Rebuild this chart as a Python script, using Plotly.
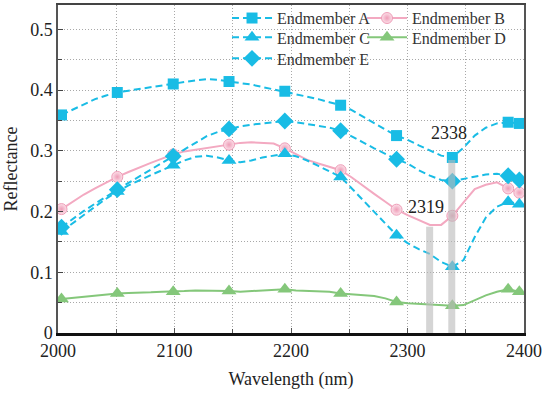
import plotly.graph_objects as go

# Band centres (nm)
wavelength = [2003.0, 2012.6, 2022.2, 2031.8, 2041.3, 2050.9, 2060.5, 2070.1, 2079.7, 2089.3,
              2098.9, 2108.4, 2118.0, 2127.6, 2137.2, 2146.8, 2156.4, 2165.9, 2175.5, 2185.1,
              2194.7, 2204.3, 2213.9, 2223.5, 2233.0, 2242.6, 2252.2, 2261.8, 2271.4, 2281.0,
              2290.6, 2300.1, 2309.7, 2319.3, 2328.9, 2338.5, 2348.1, 2357.7, 2367.2, 2376.8,
              2386.4, 2396.0]

endmember_a = [0.359, 0.368, 0.377, 0.385, 0.391, 0.396, 0.399, 0.402, 0.405, 0.407,
               0.410, 0.413, 0.416, 0.418, 0.417, 0.414, 0.412, 0.409, 0.405, 0.401,
               0.398, 0.394, 0.390, 0.385, 0.380, 0.375, 0.367, 0.356, 0.345, 0.335,
               0.325, 0.318, 0.309, 0.300, 0.292, 0.289, 0.305, 0.325, 0.338, 0.345,
               0.347, 0.345]
endmember_b = [0.204, 0.216, 0.228, 0.238, 0.248, 0.257, 0.265, 0.273, 0.280, 0.287,
               0.294, 0.299, 0.302, 0.305, 0.308, 0.310, 0.313, 0.314, 0.313, 0.312,
               0.304, 0.295, 0.285, 0.279, 0.274, 0.268, 0.256, 0.242, 0.229, 0.216,
               0.203, 0.194, 0.186, 0.178, 0.178, 0.193, 0.215, 0.237, 0.244, 0.248,
               0.238, 0.231]
endmember_c = [0.167, 0.181, 0.195, 0.208, 0.221, 0.233, 0.243, 0.252, 0.260, 0.268,
               0.276, 0.284, 0.290, 0.292, 0.289, 0.284, 0.281, 0.284, 0.289, 0.292,
               0.295, 0.291, 0.284, 0.275, 0.266, 0.257, 0.238, 0.219, 0.200, 0.180,
               0.161, 0.148, 0.138, 0.130, 0.117, 0.109, 0.120, 0.158, 0.190, 0.208,
               0.216, 0.212]
endmember_d = [0.056, 0.058, 0.060, 0.061, 0.063, 0.065, 0.066, 0.066, 0.067, 0.068,
               0.068, 0.069, 0.070, 0.070, 0.070, 0.069, 0.068, 0.069, 0.070, 0.071,
               0.072, 0.070, 0.069, 0.069, 0.068, 0.065, 0.064, 0.063, 0.061, 0.057,
               0.051, 0.049, 0.048, 0.047, 0.046, 0.045, 0.046, 0.054, 0.062, 0.068,
               0.072, 0.068]
endmember_e = [0.174, 0.188, 0.201, 0.213, 0.225, 0.236, 0.247, 0.258, 0.269, 0.280,
               0.291, 0.302, 0.314, 0.324, 0.331, 0.336, 0.340, 0.343, 0.345, 0.347,
               0.349, 0.347, 0.344, 0.341, 0.338, 0.333, 0.324, 0.314, 0.304, 0.295,
               0.286, 0.279, 0.268, 0.259, 0.252, 0.250, 0.254, 0.258, 0.261, 0.262,
               0.259, 0.252]

# Bands that carry a marker
marker_idx = [0, 5, 10, 15, 20, 25, 30, 35, 40, 41]

# Absorption features highlighted with grey bars
feature_nm = [2319, 2338]
feature_top = [0.175, 0.285]

BLUE = "#19BCE5"
PINK = "#F3A9C1"
GREEN = "#84C77A"
FONT = "'Liberation Serif', 'Times New Roman', Tinos, serif"

# legend slot for each series: (legend id, column x, row y) in paper units
series = [
    ("Endmember A", endmember_a, BLUE, "square", 11, "7px,4px", ("legend", 0.3627, 0.960)),
    ("Endmember B", endmember_b, PINK, "circle", 11, "solid", ("legend2", 0.6524, 0.960)),
    ("Endmember C", endmember_c, BLUE, "triangle-up", 13, "7px,4px", ("legend3", 0.3627, 0.901)),
    ("Endmember D", endmember_d, GREEN, "triangle-up", 13, "solid", ("legend4", 0.6524, 0.901)),
    ("Endmember E", endmember_e, BLUE, "diamond", 13, "7px,4px", ("legend5", 0.3627, 0.837)),
]


def make_marker(symbol, size, color):
    if symbol == "circle":
        return dict(symbol=symbol, size=size, color="#FCE1EA",
                    gradient=dict(type="radial", color="#EE9DB7"),
                    line=dict(width=1, color="#EE9DB7"))
    return dict(symbol=symbol, size=size, color=color, line=dict(width=0))


fig = go.Figure()
for name, vals, color, symbol, msize, dash, (leg, lx, ly) in series:
    line = dict(color=color, width=2, dash=dash)
    # full spectrum line
    fig.add_trace(go.Scatter(x=wavelength, y=vals, name=name, mode="lines",
                             line=line, showlegend=False))
    # markers on selected bands
    fig.add_trace(go.Scatter(x=[wavelength[i] for i in marker_idx],
                             y=[vals[i] for i in marker_idx],
                             name=name, mode="markers", showlegend=False,
                             marker=make_marker(symbol, msize, color)))
    # legend entry
    fig.add_trace(go.Scatter(x=[None], y=[None], name=name, mode="lines+markers",
                             line=line, marker=make_marker(symbol, msize, color), legend=leg))

for w, top in zip(feature_nm, feature_top):
    fig.add_trace(go.Scatter(
        x=[w, w], y=[0, top], mode="lines", showlegend=False, hoverinfo="skip",
        line=dict(color="rgba(185,185,185,0.6)", width=7),
    ))

fig.add_annotation(x=feature_nm[0], y=0.207, text=str(feature_nm[0]), showarrow=False,
                   xshift=-4, font=dict(family=FONT, size=18, color="#222"))
fig.add_annotation(x=feature_nm[1], y=0.329, text=str(feature_nm[1]), showarrow=False,
                   xshift=-3, font=dict(family=FONT, size=18, color="#222"))

grid = dict(gridcolor="#A8A8A8", griddash="1px,2px", gridwidth=1)
legend_common = dict(xanchor="left", yanchor="middle", bgcolor="rgba(0,0,0,0)",
                     itemwidth=40, tracegroupgap=0,
                     font=dict(family=FONT, size=16, color="#333"))
legends = {leg: dict(x=lx, y=ly, **legend_common) for *_, (leg, lx, ly) in series}

fig.update_layout(
    width=545, height=395,
    margin=dict(l=58, r=21, t=5, b=62, autoexpand=False),
    plot_bgcolor="white", paper_bgcolor="white",
    font=dict(family=FONT, size=18, color="#222"),
    **legends,
    xaxis=dict(
        range=[2000, 2400], dtick=100, tick0=2000, showgrid=True, **grid,
        ticks="inside", ticklen=5, tickcolor="#555",
        minor=dict(dtick=50, showgrid=True, ticks="inside", ticklen=4, tickcolor="#555", **grid),
        showline=True, linecolor="#111", linewidth=2.5, zeroline=False,
        title=dict(text="Wavelength (nm)", standoff=13, font=dict(family=FONT, size=18)),
        tickfont=dict(family=FONT, size=18, color="#222"),
    ),
    xaxis2=dict(overlaying="x", matches="x", side="top", showline=True, linecolor="#444",
                linewidth=1.5, showticklabels=False, showgrid=False, ticks="", zeroline=False),
    yaxis=dict(
        range=[0, 0.54], dtick=0.1, tick0=0, showgrid=True, **grid,
        ticks="inside", ticklen=5, tickcolor="#444",
        minor=dict(dtick=0.05, showgrid=True, ticks="inside", ticklen=4, tickcolor="#444", **grid),
        showline=True, linecolor="#555", linewidth=1.5, mirror=True, zeroline=False,
        title=dict(text="Reflectance", standoff=8, font=dict(family=FONT, size=18)),
        tickfont=dict(family=FONT, size=18, color="#222"),
    ),
)
# invisible trace to activate the top frame axis
fig.add_trace(go.Scatter(x=[None], y=[None], xaxis="x2", showlegend=False, hoverinfo="skip"))

fig.write_html("out.html")
